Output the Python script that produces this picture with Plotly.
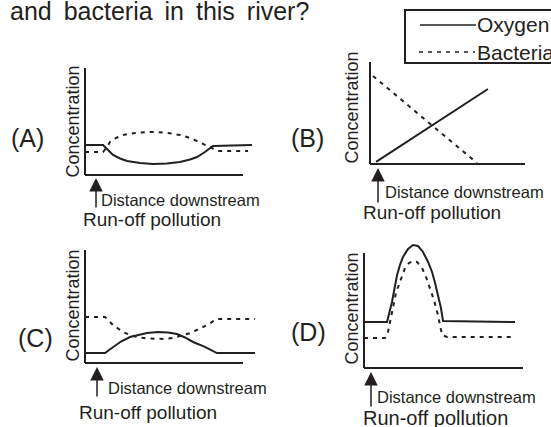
import plotly.graph_objects as go

W, H = 551, 427
INK = "#231f20"
FONT = "Liberation Sans, Arial, sans-serif"

# ---------------- data (concept units: distance 0-10, concentration 0-10) ----------------
AXIS_LEN = 10

A_X_OXY = [0, 1.14, 1.46, 1.77, 2.22, 2.66, 3.48, 4.30, 5.19, 6.01, 6.65, 7.09, 7.59, 8.10, 10.57]
A_Y_OXY = [2.80, 2.80, 2.34, 1.87, 1.54, 1.31, 1.12, 1.03, 1.07, 1.21, 1.45, 1.68, 2.15, 2.71, 2.80]
A_X_BAC = [0, 1.14, 1.39, 1.58, 1.96, 2.41, 3.16, 3.92, 4.56, 5.25, 6.01, 6.65, 7.09, 7.59, 8.04, 8.42, 10.32]
A_Y_BAC = [2.15, 2.15, 2.62, 3.08, 3.46, 3.74, 3.93, 4.02, 4.02, 3.93, 3.74, 3.46, 3.18, 2.80, 2.52, 2.24, 2.24]

B_X_OXY = [0.39, 7.61]
B_Y_OXY = [0.20, 7.35]
B_X_BAC = [0.19, 6.90]
B_Y_BAC = [8.63, 0.10]

C_X_OXY = [0, 1.27, 1.52, 1.77, 2.28, 2.85, 3.42, 3.92, 4.62, 5.25, 5.82, 6.33, 6.84, 7.59, 8.35, 10.76]
C_Y_OXY = [0.88, 0.88, 1.15, 1.42, 1.90, 2.30, 2.52, 2.65, 2.74, 2.70, 2.57, 2.26, 1.86, 1.42, 0.88, 0.88]
C_X_BAC = [0, 1.27, 1.77, 2.41, 2.85, 3.29, 3.92, 4.56, 5.06, 5.57, 6.14, 6.65, 7.22, 7.72, 8.35, 10.76]
C_Y_BAC = [4.07, 4.07, 3.36, 2.74, 2.48, 2.30, 2.17, 2.12, 2.12, 2.21, 2.43, 2.65, 3.01, 3.36, 3.89, 3.89]

D_X_OXY = [0, 1.45, 1.76, 2.08, 2.26, 2.45, 2.77, 3.08, 3.40, 3.71, 4.03, 4.28, 4.47, 4.65, 4.84, 4.97, 9.50]
D_Y_OXY = [4.00, 4.00, 5.74, 8.09, 8.96, 9.65, 10.35, 10.70, 10.61, 10.09, 9.22, 8.35, 7.39, 6.35, 5.22, 4.09, 4.00]
D_X_BAC = [0, 1.32, 1.51, 1.64, 1.82, 2.01, 2.26, 2.58, 2.83, 3.08, 3.33, 3.65, 3.90, 4.15, 4.40, 4.65, 4.91, 5.22, 9.50]
D_Y_BAC = [2.61, 2.61, 3.13, 4.00, 5.30, 6.52, 7.48, 8.70, 9.13, 9.30, 9.22, 8.70, 7.91, 6.96, 5.91, 4.61, 2.87, 2.70, 2.70]

PANEL_LABELS = ["(A)", "(B)", "(C)", "(D)"]
Y_TITLE = "Concentration"
X_TITLE = "Distance downstream"
ARROW_TEXT = "Run-off pollution"
SERIES_NAMES = ["Oxygen", "Bacteria"]
QUESTION = "and\u2009 bacteria\u2009 in\u2009 this\u2009 river?"

# ---------------- layout helpers (pixel anchors of each panel) ----------------
# origin pixel (ox, oy) of the axes corner, pixels per unit (ux, uy)
PANELS = [
    dict(ox=85, oy=175, ux=15.8, uy=10.7, data=(A_X_OXY, A_Y_OXY, A_X_BAC, A_Y_BAC)),
    dict(ox=370, oy=164, ux=15.5, uy=10.2, data=(B_X_OXY, B_Y_OXY, B_X_BAC, B_Y_BAC)),
    dict(ox=85, oy=363, ux=15.8, uy=11.3, data=(C_X_OXY, C_Y_OXY, C_X_BAC, C_Y_BAC)),
    dict(ox=364, oy=368, ux=15.9, uy=11.5, data=(D_X_OXY, D_Y_OXY, D_X_BAC, D_Y_BAC)),
]

def px(x):
    return x / W

def py(y):
    return 1 - y / H

fig = go.Figure()
layout_axes = {}
shapes = []
annotations = []

for i, p in enumerate(PANELS):
    n = "" if i == 0 else str(i + 1)
    xa, ya = "x" + n, "y" + n
    left, right = p["ox"] - 15, p["ox"] + 11.2 * p["ux"]
    top, bottom = p["oy"] - 11.5 * p["uy"], p["oy"] + 1.5 * p["uy"]
    xr = [(left - p["ox"]) / p["ux"], (right - p["ox"]) / p["ux"]]
    yr = [(p["oy"] - bottom) / p["uy"], (p["oy"] - top) / p["uy"]]
    layout_axes["xaxis" + n] = dict(domain=[px(left), px(right)], range=xr, visible=False,
                                    anchor=ya, fixedrange=True)
    layout_axes["yaxis" + n] = dict(domain=[py(bottom), py(top)], range=yr, visible=False,
                                    anchor=xa, fixedrange=True)
    xo, yo, xb, yb = p["data"]
    fig.add_trace(go.Scatter(x=xo, y=yo, mode="lines", xaxis=xa, yaxis=ya,
                             line=dict(color=INK, width=2), showlegend=False,
                             name=SERIES_NAMES[0], cliponaxis=False))
    fig.add_trace(go.Scatter(x=xb, y=yb, mode="lines", xaxis=xa, yaxis=ya,
                             line=dict(color=INK, width=2, dash="4px,5px"), showlegend=False,
                             name=SERIES_NAMES[1], cliponaxis=False))
    # axes (L-shaped)
    shapes.append(dict(type="line", xref=xa, yref=ya, x0=0, y0=0, x1=0, y1=AXIS_LEN,
                       line=dict(color=INK, width=2)))
    shapes.append(dict(type="line", xref=xa, yref=ya, x0=0, y0=0, x1=AXIS_LEN, y1=0,
                       line=dict(color=INK, width=2)))

# ---------------- text annotations ----------------
def text(t, x, y, size, xanchor="left", yanchor="middle", angle=0):
    annotations.append(dict(text=t, xref="paper", yref="paper", x=px(x), y=py(y),
                            xanchor=xanchor, yanchor=yanchor, showarrow=False,
                            textangle=angle, font=dict(family=FONT, size=size, color=INK)))

def arrow(x, tip, tail):
    annotations.append(dict(text="", xref="paper", yref="paper", x=px(x), y=py(tip),
                            ax=0, ay=tail - tip, axref="pixel", ayref="pixel",
                            showarrow=True, arrowhead=2, arrowsize=1.8, arrowwidth=1.5,
                            arrowcolor=INK, standoff=0))

text(QUESTION, 8, 11, 25)

label_pos = [(27, 138), (307, 138), (35, 338), (308, 332)]
label_size = [25, 25, 25, 25]
ytitle_pos = [(72.5, 122), (351.5, 108), (72.5, 306), (351.5, 309)]
xtitle_pos = [(99, 200), (383, 192), (106, 388), (375, 397)]
arrow_pos = [(96, 178, 209), (378, 168, 204), (97, 367, 398), (371, 372, 408)]
runoff_pos = [(81, 219), (361, 212), (77, 412), (361, 418)]
runoff_size = [19, 19, 19, 20]

for i in range(4):
    text(PANEL_LABELS[i], *label_pos[i], label_size[i], xanchor="center")
    text(Y_TITLE, *ytitle_pos[i], 18, xanchor="center", angle=-90)
    text(X_TITLE, *xtitle_pos[i], 16.5)
    arrow(*arrow_pos[i])
    text(ARROW_TEXT, *runoff_pos[i], runoff_size[i])

# ---------------- legend box ----------------
shapes.append(dict(type="rect", xref="paper", yref="paper", x0=px(405), y0=py(10),
                   x1=px(565), y1=py(63), line=dict(color=INK, width=2)))
shapes.append(dict(type="line", xref="paper", yref="paper", x0=px(420), y0=py(25),
                   x1=px(476), y1=py(25), line=dict(color=INK, width=1.5)))
shapes.append(dict(type="line", xref="paper", yref="paper", x0=px(419), y0=py(52),
                   x1=px(475), y1=py(52), line=dict(color=INK, width=1.5, dash="4px,5px")))
text(SERIES_NAMES[0], 475, 25, 21)
text(SERIES_NAMES[1], 475, 52, 21)

fig.update_layout(width=W, height=H, autosize=False,
                  margin=dict(l=0, r=0, t=0, b=0),
                  paper_bgcolor="white", plot_bgcolor="rgba(0,0,0,0)",
                  showlegend=False, shapes=shapes, annotations=annotations,
                  **layout_axes)

fig.write_html("out.html", config={"displayModeBar": False},
               post_script="document.body.style.margin='0';document.body.style.overflow='hidden';")
